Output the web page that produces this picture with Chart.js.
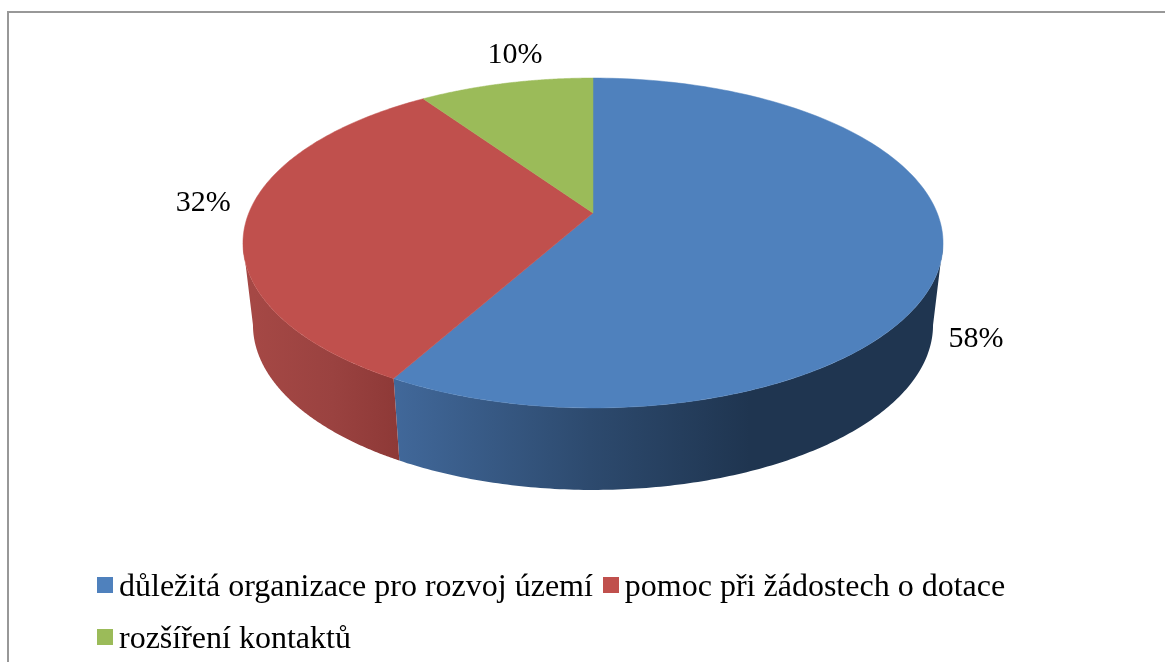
<!DOCTYPE html>
<html lang="cs">
<head>
<meta charset="utf-8">
<title>Graf</title>
<script src="https://cdn.jsdelivr.net/npm/chart.js@4"></script>
<style>
  html, body { margin: 0; padding: 0; background: #fff; overflow: hidden; }
  #wrap { position: relative; width: 1165px; height: 662px; overflow: hidden; }
  #frame { position: absolute; left: 7px; top: 11px; right: -4px; bottom: -4px;
           border-left: 2px solid #989898; border-top: 2px solid #989898; }
  #legend { position: absolute; left: 97px; top: 559px; width: 960px; display: flex; flex-wrap: wrap;
            font: 32px "Liberation Serif", serif; color: #000; line-height: 52px; }
  #legend .item { display: flex; align-items: center; margin-right: 10px; white-space: nowrap; }
  #legend .box { width: 16px; height: 16px; margin-right: 6px; }
  canvas { position: absolute; left: 0; top: 0; }
</style>
</head>
<body>
<div id="wrap">
  <canvas id="chart" width="1165" height="662"></canvas>
  <div id="frame"></div>
  <div id="legend"></div>
</div>
<script>
const categories = [
  "důležitá organizace pro rozvoj území",
  "pomoc při žádostech o dotace",
  "rozšíření kontaktů",
];
const shares = [58.1, 32.3, 9.6];
const percentLabels = ["58%", "32%", "10%"];

const topColors = ["#4f81bd", "#c0504d", "#9bbb59"];
const wallStops = [
  ["#41689a", "#2d4a6e", "#1f3550"],
  ["#a54845", "#9a4240", "#8e3937"],
  ["#7d9647", "#7d9647", "#7d9647"],
];
const wallRange = [[394, 750], [253, 398], [424, 593]];
const labelOffsets = [[34, 84], [-43, -17], [9, -28]];

// perspective of the tilted disc, fitted to the rim of the reference
const CX = 593;
const CY = 213;
const RX = 344.2;
const RY = 159.5;
const TILT = 0.1818;
const DEPTH = 82;
const BOTTOM_SCALE = 340 / 350;
const STEPS = 160;
// angles where the rim is widest, the wall is only visible between them
const FRONT_FROM = Math.asin(TILT);
const FRONT_TO = Math.PI - FRONT_FROM;

function project(angle, depth = 0, scale = 1) {
  const u = Math.cos(angle);
  const v = Math.sin(angle);
  const w = 1 - TILT * v;
  return { x: CX + (RX * scale * u) / w, y: CY + depth + (RY * v) / w };
}

function traceRim(ctx, from, to, depth, scale) {
  for (let i = 0; i <= STEPS; i++) {
    const p = project(from + ((to - from) * i) / STEPS, depth, scale);
    ctx.lineTo(p.x, p.y);
  }
}

const disc3d = {
  id: "disc3d",
  beforeDatasetDraw(chart, args) {
    const ctx = chart.ctx;
    const arcs = args.meta.data;
    ctx.save();

    arcs.forEach((arc, i) => {
      const from = Math.max(arc.startAngle, FRONT_FROM);
      const to = Math.min(arc.endAngle, FRONT_TO);
      if (from >= to) return;
      const grad = ctx.createLinearGradient(wallRange[i][0], 0, wallRange[i][1], 0);
      grad.addColorStop(0, wallStops[i][0]);
      grad.addColorStop(0.55, wallStops[i][1]);
      grad.addColorStop(1, wallStops[i][2]);
      ctx.beginPath();
      traceRim(ctx, from, to, 0, 1);
      traceRim(ctx, to, from, DEPTH, BOTTOM_SCALE);
      ctx.closePath();
      ctx.fillStyle = grad;
      ctx.fill();
    });

    arcs.forEach((arc, i) => {
      ctx.beginPath();
      ctx.moveTo(CX, CY);
      traceRim(ctx, arc.startAngle, arc.endAngle, 0, 1);
      ctx.closePath();
      ctx.fillStyle = topColors[i];
      ctx.strokeStyle = topColors[i];
      ctx.lineWidth = 0.5;
      ctx.fill();
      ctx.stroke();
    });

    ctx.fillStyle = "#000";
    ctx.font = '30px "Liberation Serif", serif';
    ctx.textAlign = "center";
    ctx.textBaseline = "middle";
    arcs.forEach((arc, i) => {
      const p = project((arc.startAngle + arc.endAngle) / 2);
      ctx.fillText(percentLabels[i], p.x + labelOffsets[i][0], p.y + labelOffsets[i][1]);
    });

    ctx.restore();
    return false;
  },
};

new Chart(document.getElementById("chart"), {
  type: "pie",
  data: {
    labels: categories,
    datasets: [{ data: shares, backgroundColor: topColors, borderWidth: 0 }],
  },
  options: {
    responsive: false,
    animation: false,
    plugins: { legend: { display: false }, tooltip: { enabled: false } },
  },
  plugins: [disc3d],
});

const legendHost = document.getElementById("legend");
categories.forEach((name, i) => {
  const item = document.createElement("div");
  item.className = "item";
  const box = document.createElement("span");
  box.className = "box";
  box.style.background = topColors[i];
  item.append(box, name);
  legendHost.append(item);
});
</script>
</body>
</html>
